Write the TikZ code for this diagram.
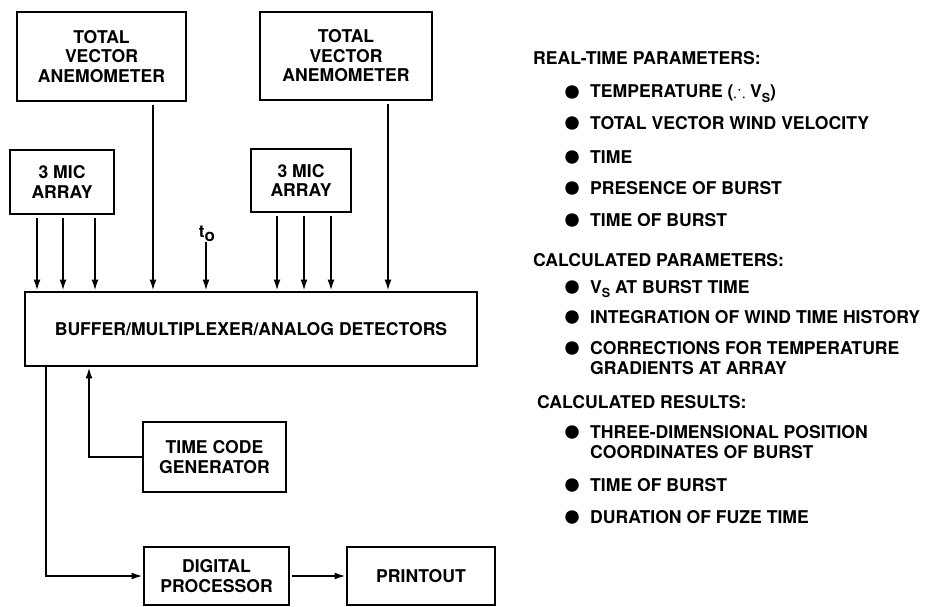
\documentclass[tikz,border=0pt]{standalone}
\usepackage{fontspec}
\usepackage{amssymb}
\setmainfont{TeX Gyre Heros}
\usetikzlibrary{arrows.meta}
\tikzset{
  blk/.style={draw, line width=2.8pt, inner sep=0pt, align=center,
    font=\bfseries\fontsize{17.6}{19.5}\selectfont},
  arr/.style={line width=1.8pt, -{Latex[length=11pt,width=7pt]}},
  txt/.style={anchor=base west, inner sep=0pt, align=left,
    font=\bfseries\fontsize{17.6}{20}\selectfont},
  bul/.style={circle, fill, inner sep=0pt, minimum size=13.5pt}
}
\begin{document}
\begin{tikzpicture}[x=1pt,y=-1pt]
\useasboundingbox (0,0) rectangle (934,607);
% boxes
\node[blk, minimum width=169, minimum height=89] (tva1) at (101.5,56.5) {TOTAL\\VECTOR\\ANEMOMETER};
\node[blk, minimum width=172, minimum height=88] (tva2) at (346,56) {TOTAL\\VECTOR\\ANEMOMETER};
\node[blk, minimum width=104, minimum height=64] (mic1) at (62,182) {3 MIC\\ARRAY};
\node[blk, minimum width=100, minimum height=63] (mic2) at (301,180.5) {3 MIC\\ARRAY};
\node[blk, minimum width=452, minimum height=74] (buf) at (251,329) {BUFFER/MULTIPLEXER/ANALOG DETECTORS};
\node[blk, minimum width=143, minimum height=70] (tcg) at (214.5,457) {TIME CODE\\GENERATOR};
\node[blk, minimum width=145, minimum height=58] (dp) at (216.5,576) {DIGITAL\\PROCESSOR};
\node[blk, minimum width=148, minimum height=58] (pr) at (421,576) {PRINTOUT};
\node[inner sep=0pt, font=\bfseries\fontsize{17}{19}\selectfont] (t0) at (207,234) {t\raisebox{-0.45ex}{o}};
% x guides
\coordinate (xa) at (37,0);
\coordinate (xb) at (63,0);
\coordinate (xc) at (95,0);
\coordinate (xd) at (153,0);
\coordinate (xe) at (206,0);
\coordinate (xf) at (277,0);
\coordinate (xg) at (304,0);
\coordinate (xh) at (331,0);
\coordinate (xi) at (388,0);
\coordinate (xj) at (89,0);
\coordinate (xk) at (46,0);
% input arrows
\foreach \g/\s in {xa/mic1,xb/mic1,xc/mic1,xd/tva1,xf/mic2,xg/mic2,xh/mic2,xi/tva2}
  \draw[arr, shorten <=3pt] (\g |- \s.south) -- (\g |- buf.north);
\draw[arr] (xe |- t0.south) -- (xe |- buf.north);
% feedback / output
\coordinate (tcgin) at (xj |- buf.south);
\draw[arr] (tcg.west) -| (tcgin);
\coordinate (bufout) at (xk |- buf.south);
\draw[arr] (bufout) |- (dp.west);
\draw[arr, shorten <=2pt] (dp.east) -- (pr.west);
% right-hand text
\node[txt] (h1) at (533,65) {REAL-TIME PARAMETERS:};
\node[bul] (b1) at (572,92) {};
\node[txt] (t1) at (590,98) {TEMPERATURE (\raisebox{0.1ex}{$\therefore$} V\raisebox{-0.45ex}{\fontsize{12.5}{12}\selectfont S})};
\node[bul] (b2) at (572,123) {};
\node[txt] (t2) at (590,129) {TOTAL VECTOR WIND VELOCITY};
\node[bul] (b3) at (572,157) {};
\node[txt] (t3) at (590,163) {TIME};
\node[bul] (b4) at (572,188) {};
\node[txt] (t4) at (590,194) {PRESENCE OF BURST};
\node[bul] (b5) at (572,220) {};
\node[txt] (t5) at (590,226) {TIME OF BURST};
\node[txt] (h2) at (533,266) {CALCULATED PARAMETERS:};
\node[bul] (b6) at (572,287) {};
\node[txt] (t6) at (590,293) {V\raisebox{-0.45ex}{\fontsize{12.5}{12}\selectfont S} AT BURST TIME};
\node[bul] (b7) at (572,317) {};
\node[txt] (t7) at (590,323) {INTEGRATION OF WIND TIME HISTORY};
\node[bul] (b8) at (572,348) {};
\node[txt] (t8) at (590,374) {CORRECTIONS FOR TEMPERATURE\\GRADIENTS AT ARRAY};
\node[txt] (h3) at (537,408) {CALCULATED RESULTS:};
\node[bul] (b9) at (572,432) {};
\node[txt] (t9) at (590,458) {THREE-DIMENSIONAL POSITION\\COORDINATES OF BURST};
\node[bul] (b10) at (572,485) {};
\node[txt] (t10) at (590,491) {TIME OF BURST};
\node[bul] (b11) at (572,517) {};
\node[txt] (t11) at (590,523) {DURATION OF FUZE TIME};
\end{tikzpicture}
\end{document}
